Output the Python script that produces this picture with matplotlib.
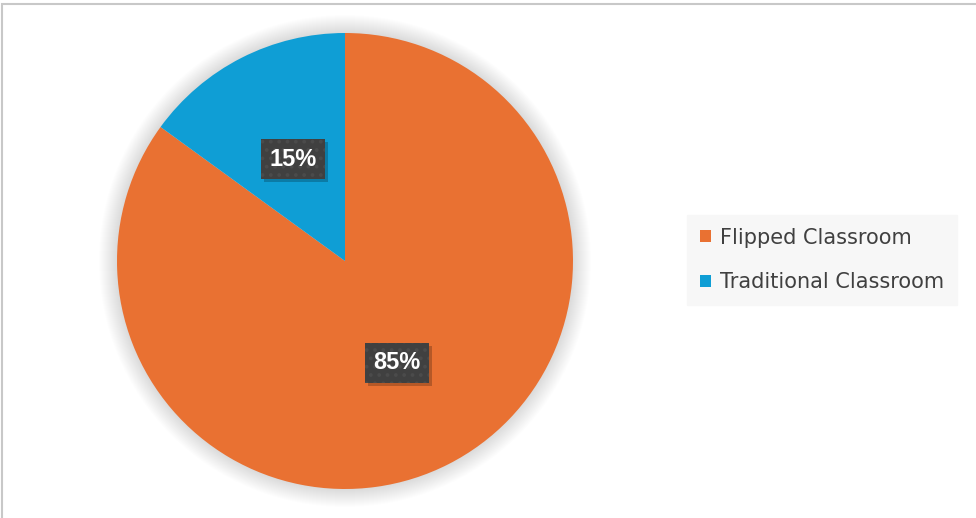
import matplotlib.pyplot as plt
from matplotlib import font_manager
from matplotlib.patches import Circle, Rectangle

labels = ["Flipped Classroom", "Traditional Classroom"]
values = [85, 15]
colors = ["#E97132", "#0F9ED5"]

plt.rcParams["font.family"] = ["DejaVu Sans"]
plt.rcParams["hatch.linewidth"] = 1.5

# pick the regular-width bold Liberation Sans (not the Narrow one)
lab_file = None
for f in font_manager.fontManager.ttflist:
    if f.name == "Liberation Sans" and f.weight == 700 and f.style == "normal":
        lab_file = f.fname
        break
if lab_file:
    lab_prop = font_manager.FontProperties(fname=lab_file, size=17)
else:
    lab_prop = font_manager.FontProperties(family="DejaVu Sans", weight="bold", size=15)

fig = plt.figure(figsize=(9.76, 5.18), dpi=100)
ax = fig.add_axes([0, 0, 1, 1])

cx, cy, r = 345, 257, 228

# soft glow behind the pie
for i in range(18):
    ax.add_patch(Circle((cx, cy), r + 18 - i, color="#000000", alpha=0.007, lw=0, zorder=0))

wedges, texts, autotexts = ax.pie(
    values,
    colors=colors,
    startangle=90,
    counterclock=False,
    center=(cx, cy),
    radius=r,
    autopct="%1.0f%%",
    pctdistance=0.5,
    wedgeprops=dict(linewidth=0),
    frame=True,
)
ax.set_xlim(0, 976)
ax.set_ylim(0, 518)
ax.set_aspect("equal")
ax.axis("off")

for t in autotexts:
    t.set_color("white")
    t.set_fontproperties(lab_prop)
    t.set_zorder(4)
    t.set_bbox(dict(boxstyle="square,pad=0.36", fc="#404040", ec="#4b4b4b", lw=0, hatch=".."))

leg = fig.legend(
    wedges,
    labels,
    loc="center left",
    bbox_to_anchor=(687 / 976, 1 - 260 / 518),
    borderaxespad=0,
    frameon=True,
    fancybox=False,
    facecolor="#F7F7F7",
    edgecolor="#F7F7F7",
    framealpha=1,
    fontsize=15,
    handlelength=0.55,
    handleheight=0.55,
    handletextpad=0.4,
    labelspacing=1.2,
    borderpad=0.62,
    labelcolor="#404040",
)
for h in leg.legend_handles:
    h.set_edgecolor("none")

# drop shadow under each label box
fig.canvas.draw()
inv = ax.transData.inverted()
for t in autotexts:
    bb = t.get_bbox_patch().get_window_extent()
    (x0, y0), (x1, y1) = inv.transform([(bb.x0 + 3, bb.y0 - 3), (bb.x1 + 3, bb.y1 - 3)])
    ax.add_patch(Rectangle((x0, y0), x1 - x0, y1 - y0, fc="#000000", alpha=0.22, lw=0, zorder=3))

fig.patches.append(Rectangle((0.002, -0.01), 1.2, 1 - 4 / 518 + 0.01, transform=fig.transFigure,
                             fill=False, edgecolor="#C8C8C8", lw=1.5))

fig.savefig("out.png", dpi=100, facecolor="white")
